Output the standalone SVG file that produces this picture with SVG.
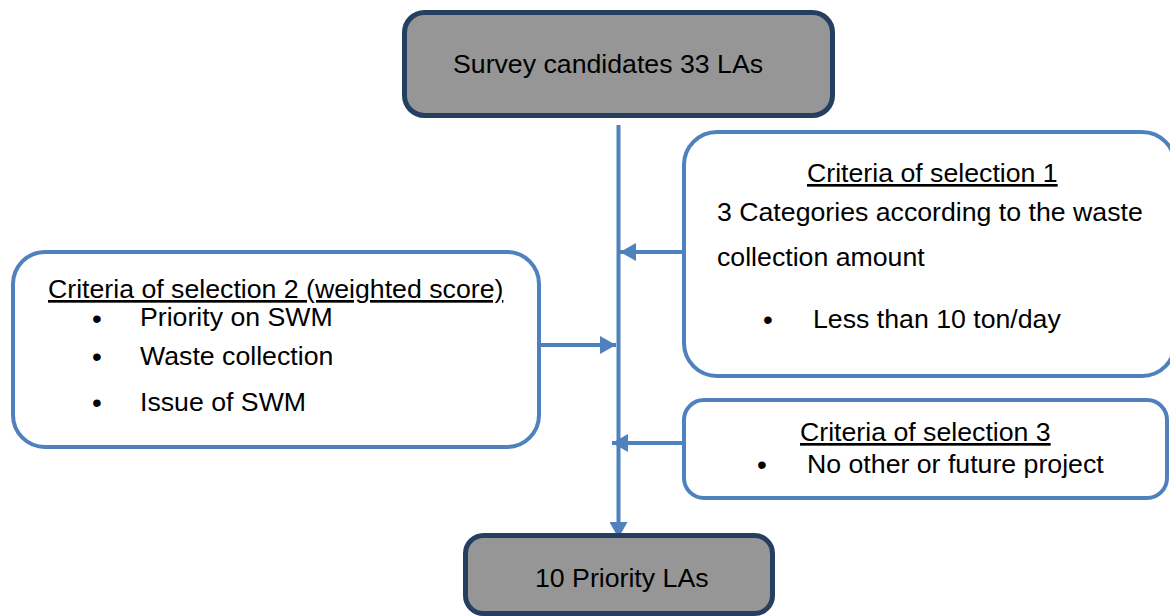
<svg xmlns="http://www.w3.org/2000/svg" width="1170" height="616" viewBox="0 0 1170 616">
<style>
text{font-family:"Liberation Sans",Arial,sans-serif;font-size:26.7px;fill:#000}
.u{text-decoration:underline}
.b{text-anchor:middle;font-size:28px}
.crit{fill:#fff;stroke:#4F81BD;stroke-width:4}
.dark{fill:#969696;stroke:#243F60;stroke-width:5}
.con{stroke:#4F81BD;stroke-width:4;fill:none}
</style>
<defs>
<marker id="ah" markerUnits="userSpaceOnUse" markerWidth="16" markerHeight="18" refX="16" refY="9" orient="auto">
<path d="M0,0 L16,9 L0,18 Z" fill="#4F81BD"/>
</marker>
</defs>
<g id="connectors">
<line class="con" x1="618.5" y1="125" x2="618.5" y2="538" marker-end="url(#ah)"/>
<line class="con" x1="684" y1="252" x2="620" y2="252" marker-end="url(#ah)"/>
<line class="con" x1="539" y1="345" x2="616" y2="345" marker-end="url(#ah)"/>
<line class="con" x1="684" y1="443" x2="612" y2="443" marker-end="url(#ah)"/>
</g>
<g id="survey">
<rect class="dark" x="404.5" y="12.5" width="428" height="103" rx="20"/>
<text x="453" y="73">Survey candidates 33 LAs</text>
</g>
<g id="criteria1">
<rect class="crit" x="684" y="132" width="491" height="244" rx="33"/>
<text class="u" x="807" y="182">Criteria of selection 1</text>
<text x="717" y="221">3 Categories according to the waste</text>
<text x="717" y="266">collection amount</text>
<text class="b" x="768" y="329">•</text>
<text x="813" y="328">Less than 10 ton/day</text>
</g>
<g id="criteria2">
<rect class="crit" x="13" y="252" width="526" height="195" rx="32"/>
<text class="u" x="48" y="298">Criteria of selection 2 (weighted score)</text>
<text class="b" x="97" y="328">•</text>
<text x="140" y="326">Priority on SWM</text>
<text class="b" x="97" y="366">•</text>
<text x="140" y="365">Waste collection</text>
<text class="b" x="97" y="412">•</text>
<text x="140" y="411">Issue of SWM</text>
</g>
<g id="criteria3">
<rect class="crit" x="684" y="400" width="483" height="98" rx="20"/>
<text class="u" x="800" y="441">Criteria of selection 3</text>
<text class="b" x="762" y="474">•</text>
<text x="807" y="473">No other or future project</text>
</g>
<g id="priority">
<rect class="dark" x="465.5" y="535.5" width="307" height="78" rx="18"/>
<text x="535" y="587">10 Priority LAs</text>
</g>
</svg>
